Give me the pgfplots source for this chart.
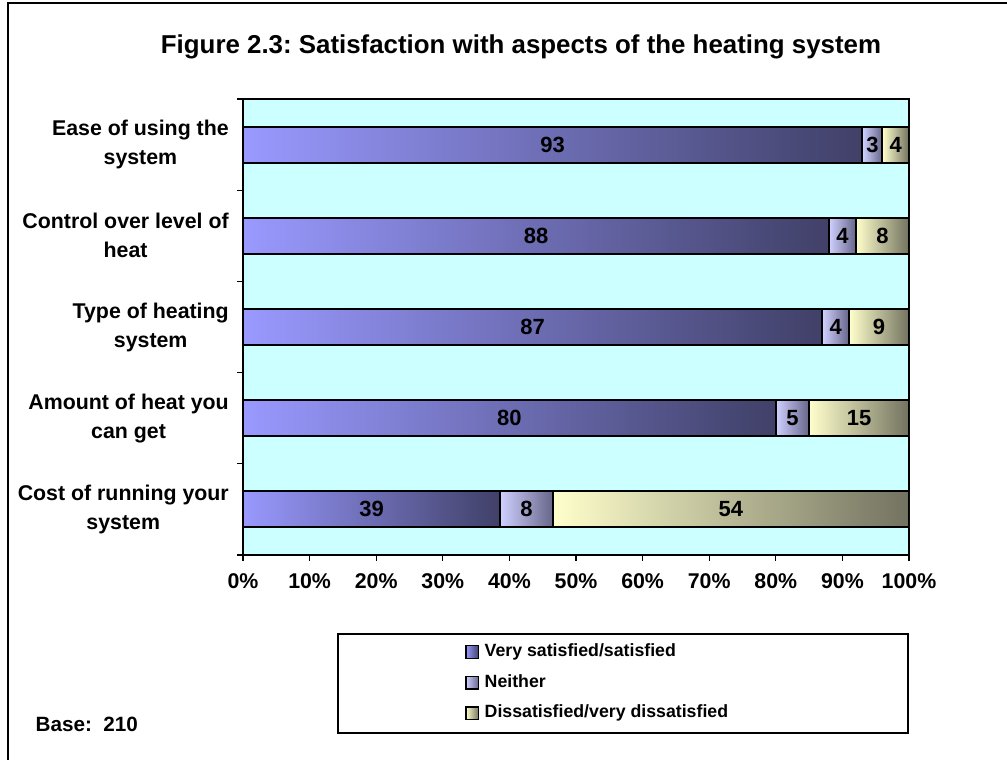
\documentclass[border=0pt]{standalone}
\usepackage{pgfplots}
\pgfplotsset{compat=1.18}
\usepackage{pgfplotstable}
\usepackage{fontspec}
\setmainfont{Liberation Sans}

\definecolor{bgc}{HTML}{CCFFFF}
\definecolor{aL}{HTML}{9999FF}
\definecolor{aR}{HTML}{404068}
\definecolor{bL}{HTML}{D0D0FF}
\definecolor{bR}{HTML}{66668A}
\definecolor{cL}{HTML}{FFFFCC}
\definecolor{cR}{HTML}{727260}

\pgfplotstableread{
y v1 v2 v3
4 93 3 4
3 88 4 8
2 87 4 9
1 80 5 15
0 39 8 54
}\data

\pgfplotsset{
  sqlegend/.style={legend image code/.code={\draw[##1, line width=1pt] (0pt,-4.8pt) rectangle (9.6pt,4.8pt);}},
  common/.style={at={(A)}, anchor=north west,
    scale only axis, width=499.5pt, height=342pt,
    xmin=0, xmax=100, ymin=-0.5, ymax=4.5},
  sera/.style={draw=black, line width=1.5pt, left color=aL, right color=aR},
  serb/.style={draw=black, line width=1.5pt, left color=bL, right color=bR},
  serc/.style={draw=black, line width=1.5pt, left color=cL, right color=cR},
}

\begin{document}
\frenchspacing
\begin{tikzpicture}[x=0.75pt,y=0.75pt]
\useasboundingbox (0,0) rectangle (1007,760);
\fill[white] (0,0) rectangle (1007,760);
\draw[line width=1.5pt] (8,-30) rectangle (1040,757);
\node[anchor=base, font=\fontsize{19.4}{23}\selectfont\bfseries] at (521,706) {Figure 2.3: Satisfaction with aspects of the heating system};
\coordinate (A) at (243,661);
\draw[line width=1.5pt] (338,126) rectangle (908,27);
\node[anchor=base west, font=\fontsize{15.5}{18}\selectfont\bfseries] at (31,28) {Base:\ \ 210};

% background, ticks, labels, legend
\begin{axis}[
  common,
  axis background/.style={fill=bgc},
  axis line style={line width=1.5pt},
  xtick={0,10,...,100},
  xticklabels={0\%,10\%,20\%,30\%,40\%,50\%,60\%,70\%,80\%,90\%,100\%},
  ytick={0,1,2,3,4},
  yticklabels={Cost of running your\\system, Amount of heat you\\can get, Type of heating\\system, Control over level of\\heat, Ease of using the\\system},
  tick align=outside, tick pos=left,
  major tick length=4.5pt,
  tick style={line width=1pt, black},
  ytick style={draw=none},
  extra y ticks={-0.5,0.5,1.5,2.5,3.5,4.5},
  extra y tick labels={,,,,,},
  extra y tick style={ytick style={draw=black, line width=1pt}},
  xticklabel style={font=\fontsize{16}{19}\selectfont\bfseries, yshift=-6pt},
  yticklabel style={align=center, font=\fontsize{16}{21.75}\selectfont\bfseries, inner sep=0pt, xshift=-6pt},
  legend style={at={(0.3333,-0.193)}, anchor=north west, draw=none, fill=none,
    inner sep=0pt, row sep=10pt,
    font=\fontsize{13.3}{16}\selectfont\bfseries,
    nodes={inner ysep=0pt, inner xsep=4pt, text height=10pt, text depth=3pt}},
  legend cell align=left,
]
\addlegendimage{sera, sqlegend}
\addlegendentry{Very satisfied/satisfied}
\addlegendimage{serb, sqlegend}
\addlegendentry{Neither}
\addlegendimage{serc, sqlegend}
\addlegendentry{Dissatisfied/very dissatisfied}
\end{axis}

% one axis per row so that each bar is shaded on its own
\pgfplotsinvokeforeach{0,1,2,3,4}{
\begin{axis}[common, axis lines=none, ticks=none,
  xbar stacked, bar width=27pt, restrict y to domain=#1:#1]
\addplot[sera]
  table[x expr=100*\thisrow{v1}/(\thisrow{v1}+\thisrow{v2}+\thisrow{v3}), y=y]{\data};
\addplot[serb]
  table[x expr=100*\thisrow{v2}/(\thisrow{v1}+\thisrow{v2}+\thisrow{v3}), y=y]{\data};
\addplot[serc]
  table[x expr=100*\thisrow{v3}/(\thisrow{v1}+\thisrow{v2}+\thisrow{v3}), y=y]{\data};
\end{axis}
}

% value labels centred in each segment
\begin{axis}[
  common,
  axis lines=none, ticks=none,
  point meta=explicit symbolic,
  nodes near coords,
  every node near coord/.append style={anchor=center, font=\fontsize{16.5}{19}\selectfont\bfseries, inner sep=0pt},
]
\addplot[draw=none, mark=none]
  table[x expr=50*\thisrow{v1}/(\thisrow{v1}+\thisrow{v2}+\thisrow{v3}), y=y, meta=v1]{\data};
\addplot[draw=none, mark=none]
  table[x expr=100*(\thisrow{v1}+0.5*\thisrow{v2})/(\thisrow{v1}+\thisrow{v2}+\thisrow{v3}), y=y, meta=v2]{\data};
\addplot[draw=none, mark=none]
  table[x expr=100*(\thisrow{v1}+\thisrow{v2}+0.5*\thisrow{v3})/(\thisrow{v1}+\thisrow{v2}+\thisrow{v3}), y=y, meta=v3]{\data};
\end{axis}
\end{tikzpicture}
\end{document}
